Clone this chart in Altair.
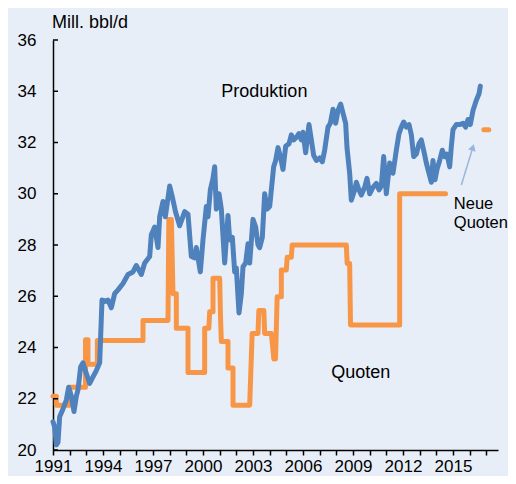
import altair as alt
import pandas as pd

# Produktion (Mill. bbl/d)
prod_year = [1991.0, 1991.1, 1991.2, 1991.3, 1991.4, 1991.6, 1991.8, 1991.94, 1992.1, 1992.26,
             1992.4, 1992.5, 1992.66, 1992.8, 1992.94, 1993.2, 1993.4, 1993.6, 1993.8, 1993.94,
             1994.1, 1994.3, 1994.5, 1994.7, 1994.9, 1995.2, 1995.5, 1995.8, 1996.0, 1996.3,
             1996.5, 1996.8, 1996.9, 1997.1, 1997.3, 1997.4, 1997.6, 1997.74, 1998.0, 1998.15,
             1998.35, 1998.6, 1998.9, 1999.1, 1999.3, 1999.5, 1999.6, 1999.84, 2000.0, 2000.2,
             2000.3, 2000.44, 2000.6, 2000.7, 2000.8, 2000.96, 2001.1, 2001.3, 2001.5, 2001.6,
             2001.76, 2001.9, 2002.0, 2002.16, 2002.3, 2002.4, 2002.56, 2002.7, 2002.8, 2003.0,
             2003.16, 2003.3, 2003.4, 2003.56, 2003.7, 2003.84, 2004.0, 2004.24, 2004.36, 2004.5,
             2004.64, 2004.8, 2004.96, 2005.16, 2005.3, 2005.44, 2005.6, 2005.76, 2005.9, 2006.0,
             2006.16, 2006.36, 2006.5, 2006.64, 2006.8, 2007.0, 2007.16, 2007.3, 2007.5, 2007.64,
             2007.8, 2007.96, 2008.1, 2008.26, 2008.4, 2008.56, 2008.64, 2008.8, 2008.9, 2009.1,
             2009.2, 2009.36, 2009.5, 2009.7, 2009.84, 2010.0, 2010.2, 2010.4, 2010.56, 2010.7,
             2010.84, 2011.0, 2011.2, 2011.4, 2011.6, 2011.76, 2011.9, 2012.04, 2012.2, 2012.36,
             2012.5, 2012.64, 2012.8, 2012.96, 2013.1, 2013.24, 2013.4, 2013.56, 2013.7, 2013.8,
             2013.92, 2014.04, 2014.2, 2014.36, 2014.5, 2014.64, 2014.8, 2014.9, 2015.0, 2015.2,
             2015.4, 2015.6, 2015.76, 2015.9, 2016.04, 2016.2, 2016.4, 2016.56, 2016.64]
prod_value = [21.1, 20.9, 20.2, 20.3, 21.3, 21.6, 21.95, 22.45, 22.1, 21.5,
              22.1, 22.35, 23.25, 23.4, 23.1, 22.6, 22.85, 23.1, 23.4, 25.85,
              25.8, 25.85, 25.55, 26.1, 26.25, 26.5, 26.85, 26.95, 27.2, 26.85,
              27.3, 27.55, 28.4, 28.7, 27.9, 29.1, 29.7, 29.1, 30.3, 29.9,
              29.3, 28.75, 29.3, 29.2, 27.55, 27.5, 27.9, 26.95, 28.2, 29.5,
              29.1, 30.15, 30.6, 31.05, 29.4, 30.0, 29.4, 27.3, 29.15, 28.2,
              28.3, 26.95, 27.1, 25.35, 26.1, 27.15, 27.3, 28.05, 27.3, 29.0,
              28.7, 28.0, 27.9, 28.3, 30.0, 29.4, 29.5, 31.05, 31.3, 31.8,
              31.45, 30.95, 31.85, 31.95, 32.3, 32.1, 32.2, 32.35, 32.1, 32.4,
              31.6, 32.7, 32.1, 31.5, 31.3, 31.4, 31.25, 31.7, 32.6, 32.75,
              33.3, 32.75, 33.25, 33.5, 33.15, 32.75, 31.8, 30.8, 29.75, 30.15,
              30.45, 30.15, 29.95, 30.25, 30.6, 30.0, 30.25, 30.4, 30.15, 30.3,
              31.45, 30.0, 31.2, 30.8, 31.7, 32.35, 32.6, 32.8, 32.6, 32.7,
              32.3, 31.45, 31.55, 31.95, 32.1, 31.7, 31.2, 30.8, 30.45, 31.3,
              30.55, 30.95, 31.3, 31.7, 31.45, 31.55, 31.05, 31.85, 32.5, 32.7,
              32.7, 32.75, 32.6, 32.9, 32.7, 33.25, 33.65, 33.9, 34.2]

# Quoten (step line)
quota_year = [1991.0, 1991.2, 1991.2, 1992.0, 1992.0, 1992.95, 1992.95, 1993.1, 1993.1, 1993.66,
              1993.66, 1996.4, 1996.4, 1997.9, 1997.95, 1998.1, 1998.2, 1998.4, 1998.4, 1999.1,
              1999.1, 2000.1, 2000.1, 2000.35, 2000.4, 2000.6, 2000.6, 2001.0, 2001.05, 2001.1,
              2001.5, 2001.5, 2001.8, 2001.8, 2002.8, 2002.95, 2003.3, 2003.35, 2003.65, 2003.7,
              2004.1, 2004.25, 2004.35, 2004.45, 2004.7, 2004.7, 2005.0, 2005.05, 2005.3, 2005.35,
              2008.6, 2008.65, 2008.8, 2008.85, 2011.8, 2011.8, 2014.55]
quota_value = [22.1, 22.1, 21.75, 21.75, 22.45, 22.45, 24.3, 24.3, 23.35, 23.35,
               24.27, 24.27, 25.05, 25.05, 29.0, 29.0, 26.1, 26.1, 24.75, 24.75,
               23.02, 23.02, 24.75, 24.75, 25.4, 25.4, 26.7, 26.7, 25.2, 24.23,
               24.23, 23.2, 23.2, 21.75, 21.75, 24.55, 24.55, 25.44, 25.44, 24.55,
               24.55, 23.55, 23.55, 25.98, 25.98, 27.02, 27.02, 27.52, 27.52, 28.0,
               28.0, 27.28, 27.28, 24.88, 24.88, 30.0, 30.0]

# Neue Quoten
new_quota_year = [2016.85, 2017.15]
new_quota_value = [32.5, 32.5]

y_ticks = [20, 22, 24, 26, 28, 30, 32, 34, 36]
x_ticks = list(range(1991, 2018))

BLUE = "#4f81bd"
ORANGE = "#f79646"
BG = "#e8eef7"
ARROW = "#9bb5dd"
FONT = "Liberation Sans"

prod_df = pd.DataFrame({"year": prod_year, "value": prod_value, "i": range(len(prod_year))})
quota_df = pd.DataFrame({
    "year": quota_year + new_quota_year,
    "value": quota_value + new_quota_value,
    "seg": ["alt"] * len(quota_year) + ["neu"] * len(new_quota_year),
    "i": range(len(quota_year) + len(new_quota_year)),
})

xs = alt.Scale(domain=[1991, 2017.7], nice=False, zero=False)
ys = alt.Scale(domain=[20, 36], nice=False, zero=False)

x_axis = alt.Axis(values=x_ticks, tickCount=60, format="d",
                  labelExpr="(datum.value - 1991) % 3 == 0 ? datum.label : ''",
                  labelOverlap=False, labelFlush=False,
                  tickSize=5, tickColor="black", tickWidth=1.5,
                  domainColor="black", domainWidth=1.5,
                  labelFont=FONT, labelFontSize=17, labelColor="black",
                  labelBaseline="alphabetic", labelPadding=16,
                  grid=False, title=None)
y_axis = alt.Axis(values=y_ticks, tickCount=30, format="d", tickSize=0,
                  domainColor="black", domainWidth=1.5,
                  labelFont=FONT, labelFontSize=17, labelColor="black", labelPadding=17,
                  labelOverlap=False,
                  grid=False, title="Mill. bbl/d", titleAngle=0, titleX=-1.5, titleY=-13,
                  titleAlign="left", titleBaseline="alphabetic", titleFont=FONT,
                  titleFontSize=18, titleFontWeight="normal", titleColor="black")

base_x = alt.X("year:Q", scale=xs, axis=x_axis)
base_y = alt.Y("value:Q", scale=ys, axis=y_axis)

quota_line = alt.Chart(quota_df).mark_line(
    color=ORANGE, strokeWidth=5, strokeCap="round", strokeJoin="round"
).encode(x=base_x, y=base_y, detail="seg:N", order="i:Q")

prod_line = alt.Chart(prod_df).mark_line(
    color=BLUE, strokeWidth=5, strokeCap="round", strokeJoin="round"
).encode(x=base_x, y=base_y, order="i:Q")

ytick_df = pd.DataFrame({"value": y_ticks})
ytick_rules = alt.Chart(ytick_df).mark_rule(color="black", strokeWidth=1.5).encode(
    y=base_y, x=alt.value(0), x2=alt.value(5)
)

# Arrow for "Neue Quoten"
arrow_df = pd.DataFrame({"year": [2015.5], "value": [30.34], "year2": [2016.14], "value2": [31.7]})
arrow_shaft = alt.Chart(arrow_df).mark_rule(color=ARROW, strokeWidth=1.5).encode(
    x=base_x, y=base_y, x2="year2:Q", y2="value2:Q"
)
head_df = pd.DataFrame({"year": [2016.19], "value": [31.81]})
arrow_head = alt.Chart(head_df).mark_point(
    shape="triangle-up", filled=True, color=ARROW, size=60, angle=17, opacity=1
).encode(x=base_x, y=base_y)

label_df = pd.DataFrame({
    "year": [2001.1, 2007.7],
    "value": [33.78, 22.81],
    "text": ["Produktion", "Quoten"],
})
labels = alt.Chart(label_df).mark_text(
    align="left", baseline="alphabetic", font=FONT, fontSize=18, color="black"
).encode(x=base_x, y=base_y, text="text:N")

note_df = pd.DataFrame({
    "year": [2015.05, 2015.05],
    "value": [29.4, 28.66],
    "text": ["Neue", "Quoten"],
})
notes = alt.Chart(note_df).mark_text(
    align="left", baseline="alphabetic", font=FONT, fontSize=16.5, color="black"
).encode(x=base_x, y=base_y, text="text:N")

chart = alt.layer(
    quota_line, prod_line, ytick_rules, arrow_shaft, arrow_head, labels, notes
).properties(
    width=445, height=410,
    autosize=alt.AutoSizeParams(type="none"),
    padding={"left": 45, "top": 32, "right": 10, "bottom": 26},
    background=BG,
).configure_view(stroke=None)

chart.save("out.html", embed_options={"renderer": "svg", "actions": False})
